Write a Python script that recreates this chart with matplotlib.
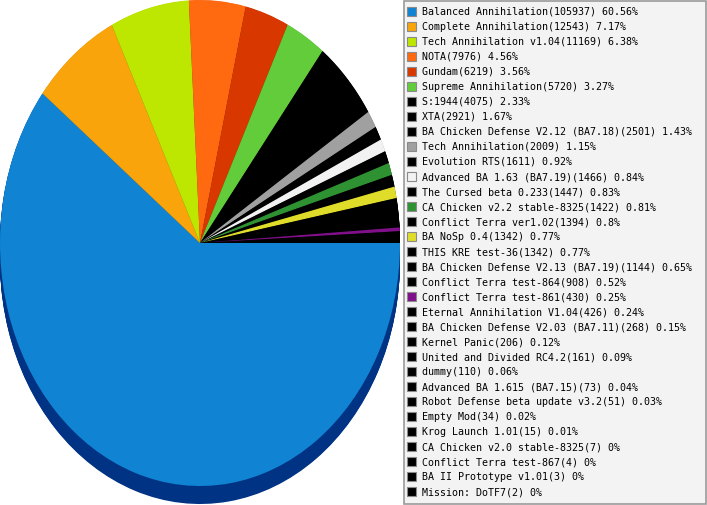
import numpy as np
import matplotlib
matplotlib.use('Agg')
import matplotlib.pyplot as plt
from matplotlib.patches import Rectangle

# mod names, game counts and share strings as shown in the legend
mods = ['Balanced Annihilation', 'Complete Annihilation', 'Tech Annihilation v1.04',
        'NOTA', 'Gundam', 'Supreme Annihilation', 'S:1944', 'XTA',
        'BA Chicken Defense V2.12 (BA7.18)', 'Tech Annihilation', 'Evolution RTS',
        'Advanced BA 1.63 (BA7.19)', 'The Cursed beta 0.233', 'CA Chicken v2.2 stable-8325',
        'Conflict Terra ver1.02', 'BA NoSp 0.4', 'THIS KRE test-36',
        'BA Chicken Defense V2.13 (BA7.19)', 'Conflict Terra test-864',
        'Conflict Terra test-861', 'Eternal Annihilation V1.04',
        'BA Chicken Defense V2.03 (BA7.11)', 'Kernel Panic', 'United and Divided RC4.2',
        'dummy', 'Advanced BA 1.615 (BA7.15)', 'Robot Defense beta update v3.2',
        'Empty Mod', 'Krog Launch 1.01', 'CA Chicken v2.0 stable-8325',
        'Conflict Terra test-867', 'BA II Prototype v1.01', 'Mission: DoTF7']
counts = [105937, 12543, 11169, 7976, 6219, 5720, 4075, 2921, 2501, 2009, 1611,
          1466, 1447, 1422, 1394, 1342, 1342, 1144, 908, 430, 426, 268, 206, 161,
          110, 73, 51, 34, 15, 7, 4, 3, 2]
shares = ['60.56', '7.17', '6.38', '4.56', '3.56', '3.27', '2.33', '1.67', '1.43',
          '1.15', '0.92', '0.84', '0.83', '0.81', '0.8', '0.77', '0.77', '0.65',
          '0.52', '0.25', '0.24', '0.15', '0.12', '0.09', '0.06', '0.04', '0.03',
          '0.02', '0.01', '0', '0', '0', '0']
colors = ['#1084d3', '#f8a40a', '#bde600', '#ff6a10', '#d83800', '#63cc3a',
          '#000000', '#000000', '#000000', '#a0a0a0', '#000000', '#f2f2f2',
          '#000000', '#2e9232', '#000000', '#e0dc2a', '#000000', '#000000',
          '#000000', '#80108a'] + ['#000000'] * 13

# side (extruded) colour: the big slice has its own dark blue
def side_color(c):
    if c == '#1084d3':
        return '#003384'
    rgb = np.array(matplotlib.colors.to_rgb(c)) * 0.5
    return rgb

W, H = 707, 505
fig = plt.figure(figsize=(W / 100, H / 100), dpi=100)
fig.patch.set_facecolor('white')

# pie axes: circle stretched into a tall ellipse (rx=200px, ry=243px)
ax = fig.add_axes([0, 0, 400 / W, 1])
ry = 243.0
cy = H - 243.0
depth = 18.0 / ry

# extruded side: stack of darker pies going down
for k in np.linspace(depth, 0.002, 24):
    ax.pie(counts, colors=[side_color(c) for c in colors], startangle=0,
           counterclock=False, center=(0, -k), radius=1,
           wedgeprops=dict(linewidth=0, antialiased=True))
# top face
ax.pie(counts, colors=colors, startangle=0, counterclock=False,
       center=(0, 0), radius=1, wedgeprops=dict(linewidth=0))
ax.set_aspect('auto')
ax.set_xlim(-1, 1)
ax.set_ylim(-cy / ry, (H - cy) / ry)
ax.axis('off')

# legend drawn in pixel coordinates
lax = fig.add_axes([0, 0, 1, 1])
lax.set_xlim(0, W)
lax.set_ylim(H, 0)
lax.axis('off')
lax.add_patch(Rectangle((403.5, 0.5), 302.5, 503.5, facecolor='#f3f3f3',
                        edgecolor='#999999', linewidth=1.2))
for i, (m, n, s, c) in enumerate(zip(mods, counts, shares, colors)):
    y = 11.3 + 15.02 * i
    lax.add_patch(Rectangle((407, y - 4.5), 9, 9, facecolor=c,
                            edgecolor='#8a8a8a', linewidth=0.8))
    lax.text(422.5, y + 0.5, '{}({}) {}%'.format(m, n, s), fontsize=7.2,
             family='DejaVu Sans Mono', va='center', ha='left', color='#000000')

plt.savefig('out.png', dpi=100)
